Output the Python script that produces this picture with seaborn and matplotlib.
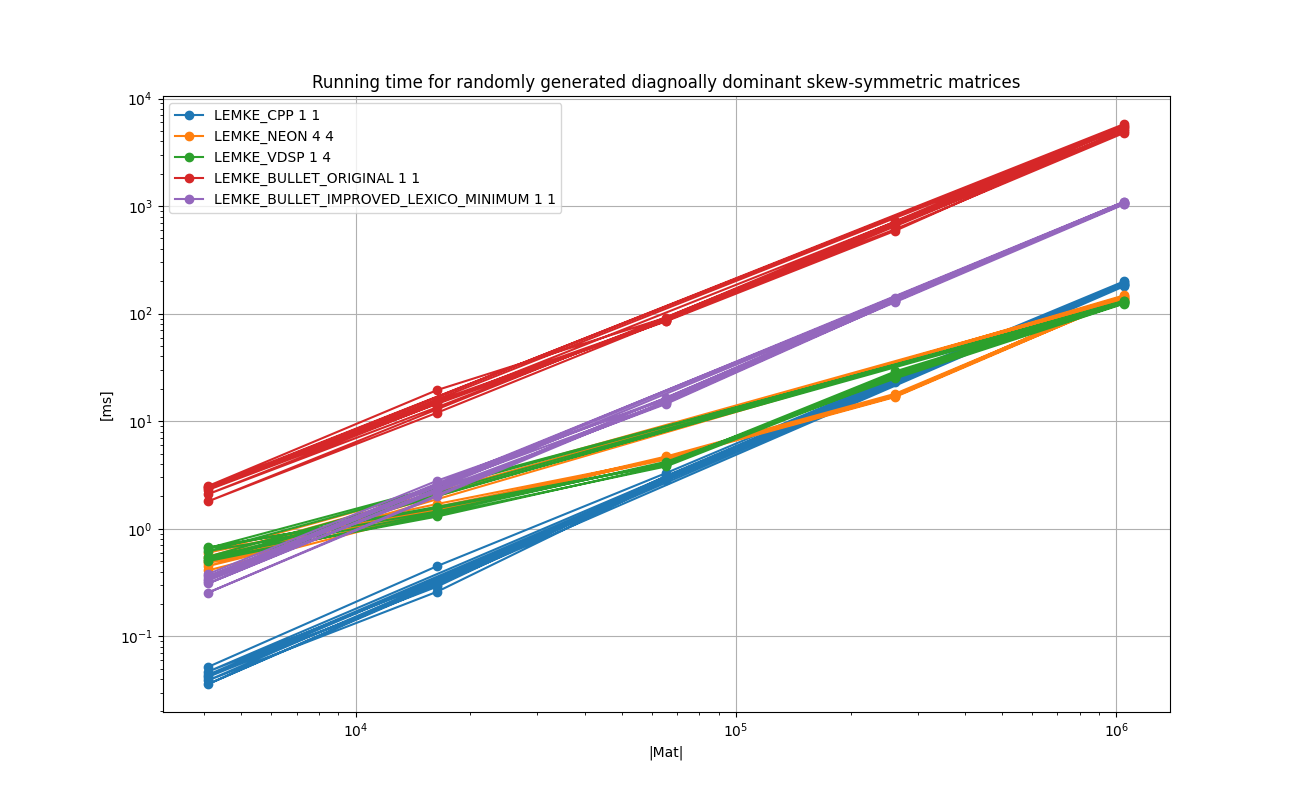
import numpy as np
import pandas as pd
import matplotlib
matplotlib.use("Agg")
import matplotlib.pyplot as plt
import seaborn as sns

# matrix sizes |Mat| = n*n
sizes = [4096, 16384, 65536, 262144, 1048576]

labels = ["LEMKE_CPP 1 1", "LEMKE_NEON 4 4", "LEMKE_VDSP 1 4",
          "LEMKE_BULLET_ORIGINAL 1 1", "LEMKE_BULLET_IMPROVED_LEXICO_MINIMUM 1 1"]

# running times [ms], one row per run (runs concatenated in each series)
cpp_runs = [
    [0.052, 0.45, 3.3, 26, 200],
    [0.047, 0.33, 3.0, 24, 190],
    [0.042, 0.30, 2.9, 23, 185],
    [0.039, 0.26, 2.85, 23.5, 180],
    [0.036, 0.31, 3.1, 25, 195],
    [0.044, 0.29, 2.95, 24, 188],
]
neon_runs = [
    [0.41, 1.45, 4.6, 17.5, 145],
    [0.50, 1.55, 4.5, 17.0, 140],
    [0.55, 1.60, 4.4, 16.8, 138],
    [0.45, 1.50, 4.7, 18.0, 142],
    [0.60, 1.70, 4.5, 17.2, 148],
    [0.48, 1.40, 4.6, 17.4, 136],
]
vdsp_runs = [
    [0.67, 1.55, 4.0, 27, 128],
    [0.62, 1.45, 4.1, 26, 125],
    [0.52, 1.30, 3.9, 28, 130],
    [0.55, 1.40, 4.2, 25, 124],
    [0.66, 1.60, 4.0, 29, 132],
    [0.50, 1.35, 3.8, 26, 127],
]
orig_runs = [
    [2.5, 19.5, 92, 720, 5800],
    [2.4, 15.5, 88, 680, 5400],
    [2.3, 14.5, 86, 650, 5000],
    [2.1, 13.5, 90, 610, 4800],
    [1.8, 12.0, 87, 700, 5600],
    [2.45, 15.0, 85, 590, 5200],
]
lexico_runs = [
    [0.38, 2.8, 16.0, 140, 1100],
    [0.34, 2.5, 15.0, 135, 1050],
    [0.31, 2.3, 14.5, 130, 1080],
    [0.255, 2.0, 15.5, 128, 1040],
    [0.36, 2.6, 16.5, 138, 1090],
    [0.33, 2.2, 14.8, 132, 1060],
]

all_runs = [cpp_runs, neon_runs, vdsp_runs, orig_runs, lexico_runs]
colors = sns.color_palette("tab10", 5)

fig, ax = plt.subplots(figsize=(13, 8), dpi=100)

for label, runs, color in zip(labels, all_runs, colors):
    xs = [s for r in runs for s in sizes]
    ys = [v for r in runs for v in r]
    df = pd.DataFrame({"x": xs, "y": ys})
    sns.lineplot(data=df, x="x", y="y", ax=ax, sort=False, estimator=None,
                 marker="o", color=color, label=label, linewidth=1.5,
                 markersize=6, markeredgecolor=color, markeredgewidth=1)

ax.set_xscale("log")
ax.set_yscale("log")
ax.grid(True, which="major", color="#b0b0b0", linewidth=0.8)
ax.set_title("Running time for randomly generated diagnoally dominant skew-symmetric matrices")
ax.set_xlabel("|Mat|")
ax.set_ylabel("[ms]")
ax.legend(loc="upper left")

fig.savefig("out.png", dpi=100)
